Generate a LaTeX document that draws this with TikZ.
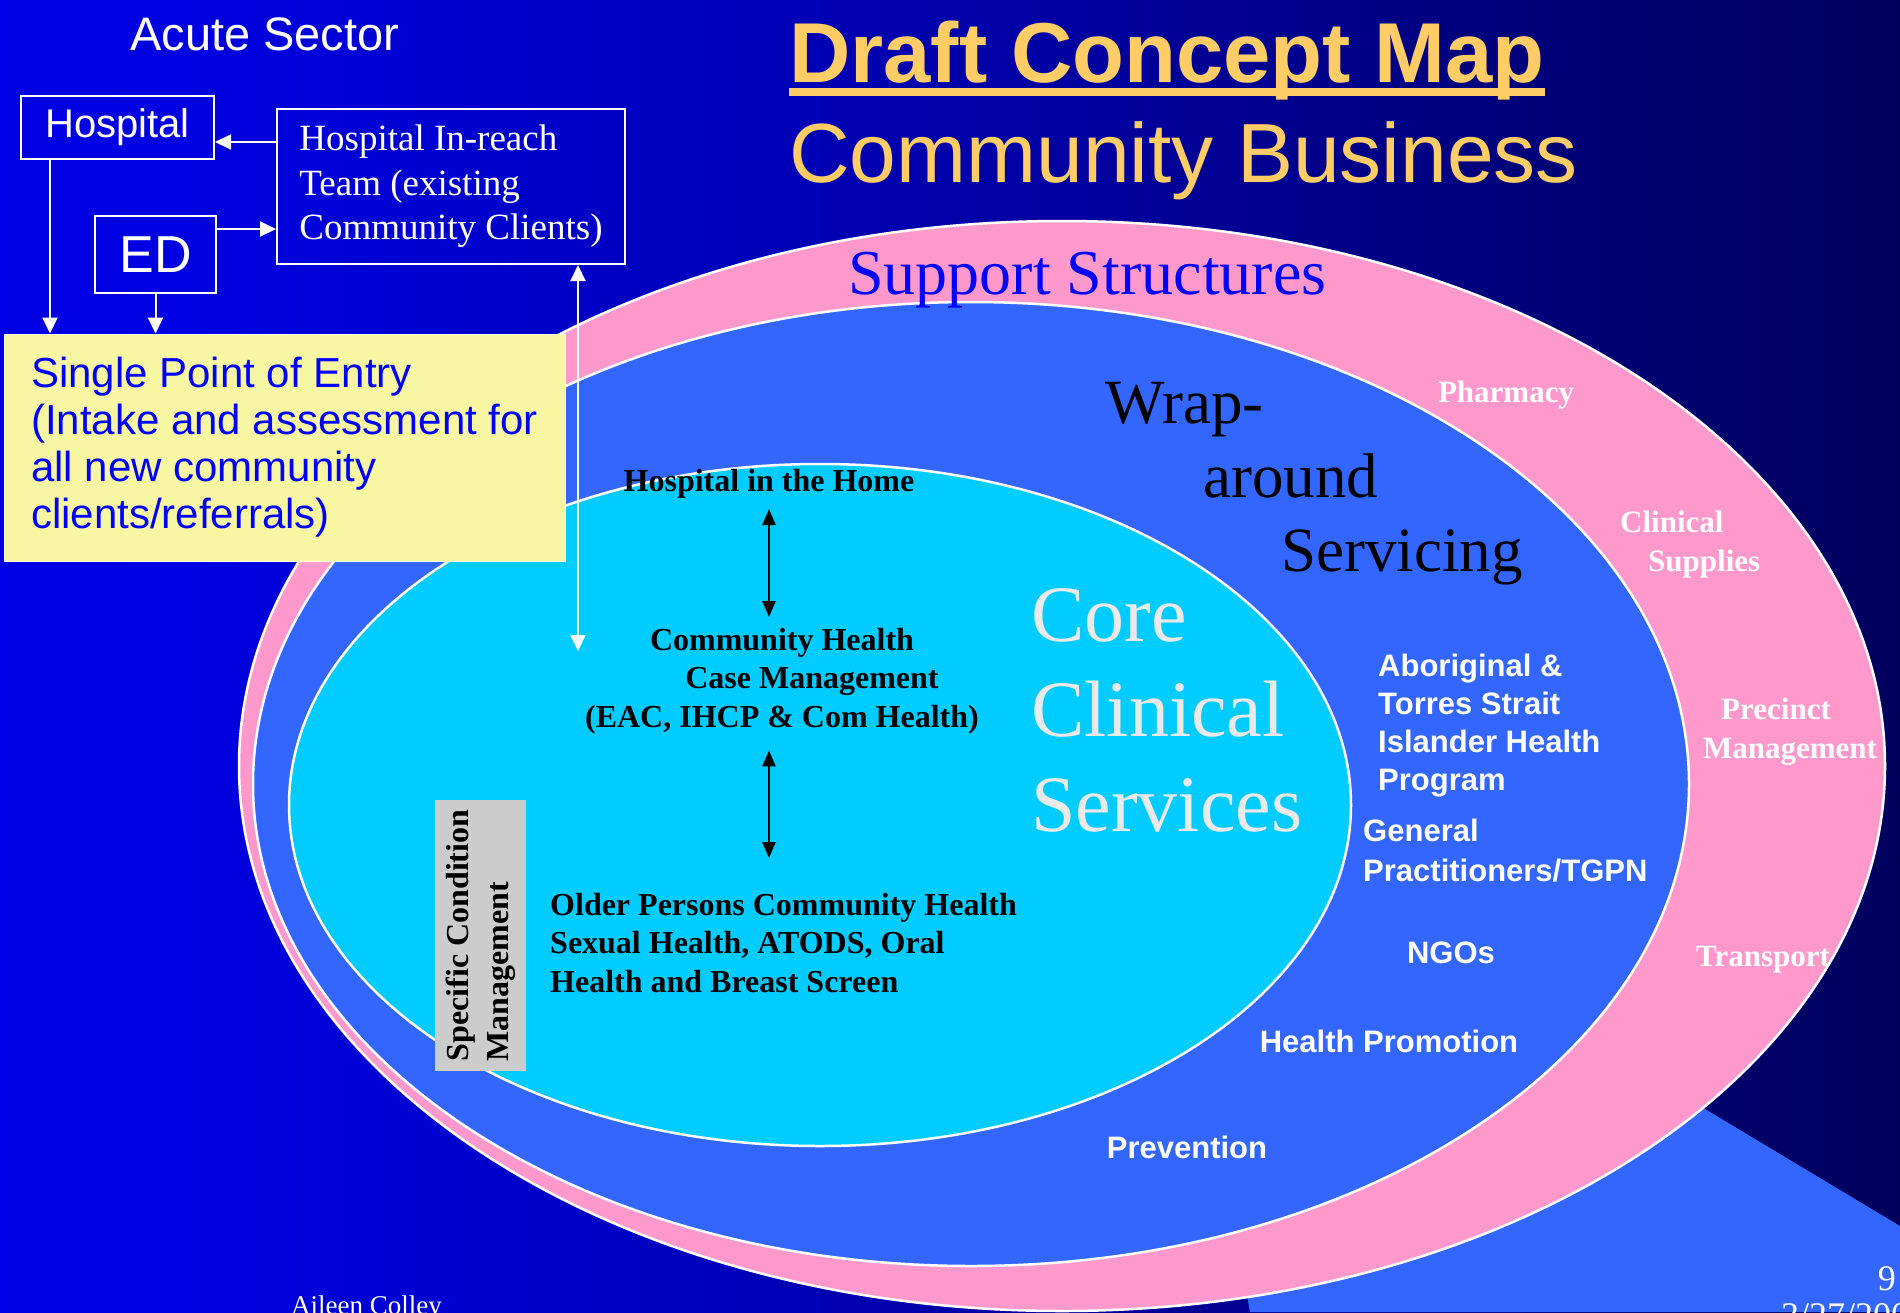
\documentclass[tikz,border=0pt]{standalone}
\usepackage{fontspec}
\setmainfont{Liberation Serif}
\setsansfont{Liberation Sans}
\usetikzlibrary{arrows.meta}

\definecolor{titlegold}{HTML}{FFCC66}
\definecolor{supportpink}{HTML}{FF99CC}
\definecolor{wrapblue}{HTML}{3366FF}
\definecolor{corecyan}{HTML}{00CCFF}
\definecolor{entryyellow}{HTML}{F7F7A3}
\definecolor{condgrey}{HTML}{CCCCCC}
\definecolor{coregrey}{HTML}{EAEAEA}
\definecolor{pureblue}{HTML}{0000FF}

\pgfdeclarehorizontalshading{slidebg}{100bp}{rgb(0bp)=(0,0,0.94); rgb(10bp)=(0,0,0.93); rgb(30bp)=(0,0,0.88); rgb(40bp)=(0,0,0.78); rgb(53bp)=(0,0,0.63); rgb(68bp)=(0,0,0.44); rgb(85bp)=(0,0,0.25); rgb(100bp)=(0,0,0.05)}

\tikzset{
  ring/.style={draw=white, line width=2.5pt},
  acutebox/.style={draw=white, line width=2pt, inner sep=0pt, text=white},
  whitearrow/.style={draw=white, line width=2pt, -{Triangle[length=16pt,width=15pt]}},
  whitedouble/.style={draw=white, line width=2pt, {Triangle[length=16pt,width=15pt]}-{Triangle[length=16pt,width=15pt]}},
  blackarrow/.style={draw=black, line width=2.5pt, {Triangle[length=16pt,width=13pt]}-{Triangle[length=16pt,width=13pt]}},
  boldserif/.style={font=\bfseries\fontsize{32}{38.5}\selectfont, inner sep=0pt},
  ringlabel/.style={font=\bfseries\fontsize{31}{39}\selectfont, text=white, inner sep=0pt},
  wraplabel/.style={font=\sffamily\bfseries\fontsize{31}{38}\selectfont, text=white, inner sep=0pt},
  footer/.style={font=\fontsize{36}{43}\selectfont, text=white, inner sep=0pt}
}

\begin{document}
\begin{tikzpicture}[x=1pt,y=-1pt]
    \clip (0,0) rectangle (1900,1312);
    \shade[shading=slidebg] (0,0) rectangle (1900,1312);
    \fill[wrapblue] (1150,776) -- (1900,1226) -- (1900,1312) -- (1250,1312) -- cycle;

    \draw[ring, fill=supportpink] (1062,766) ellipse [x radius=823, y radius=545];
    \draw[ring, fill=wrapblue] (971,784) ellipse [x radius=718, y radius=482];
    \draw[ring, fill=corecyan] (820,805) ellipse [x radius=531, y radius=341];

    \node[font=\sffamily\fontsize{47}{56}\selectfont, text=white, anchor=base west, inner sep=0pt] (acute) at (130,50) {Acute Sector};
    \node[font=\sffamily\bfseries\fontsize{85}{100}\selectfont, text=titlegold, anchor=base west, inner sep=0pt] (title) at (789,82) {Draft Concept Map};
    \draw[titlegold, line width=8pt] ([yshift=-10pt]title.base west) -- ([yshift=-10pt]title.base east);
    \node[font=\sffamily\fontsize{84}{100}\selectfont, text=titlegold, anchor=base west, inner sep=0pt] (business) at (789,182) {Community Business};

    \node[font=\fontsize{64}{74}\selectfont, text=pureblue, anchor=base west, inner sep=0pt] (support) at (848,294) {Support Structures};
    \node[font=\fontsize{63}{74}\selectfont, anchor=north west, align=left, inner sep=0pt] (wrap) at (1105,382) {Wrap-\\\hspace*{98pt}around\\\hspace*{176pt}Servicing};
    \node[font=\fontsize{80}{95}\selectfont, text=coregrey, anchor=north west, align=left, inner sep=0pt] (core) at (1031,588) {Core\\Clinical\\Services};

    \node[boldserif, anchor=base] (hith) at (769,491) {Hospital in the Home};
    \node[boldserif, anchor=north, align=center] (comhealth) at (782,628) {Community Health\\\hspace*{60pt}Case Management\\(EAC, IHCP \& Com Health)};
    \node[boldserif, anchor=north west, align=left] (older) at (550,893) {Older Persons Community Health\\Sexual Health, ATODS, Oral\\Health and Breast Screen};
    \node[boldserif, font=\bfseries\fontsize{32}{40}\selectfont, fill=condgrey, rotate=90, minimum width=271pt, minimum height=91pt, align=left] (specific) at (480.5,935.5) {Specific Condition\\Management};

    \draw[blackarrow, shorten <=11pt, shorten >=11pt] (hith.south) -- (hith.south |- comhealth.north);
    \draw[blackarrow, shorten <=16pt, shorten >=35pt] (comhealth.south -| hith.south) -- (hith.south |- older.north);

    \node[wraplabel, anchor=north west, align=left] (aboriginal) at (1378,654) {Aboriginal \&\\Torres Strait\\Islander Health\\Program};
    \node[wraplabel, font=\sffamily\bfseries\fontsize{31}{40}\selectfont, anchor=north west, align=left] (gps) at (1363,819) {General\\Practitioners/TGPN};
    \node[wraplabel, anchor=base] (ngos) at (1451,963) {NGOs};
    \node[wraplabel, anchor=base] (promotion) at (1389,1052) {Health Promotion};
    \node[wraplabel, anchor=base] (prevention) at (1187,1158) {Prevention};

    \node[ringlabel, anchor=base] (pharmacy) at (1506,402) {Pharmacy};
    \node[ringlabel, anchor=north west, align=left] (supplies) at (1620,511) {Clinical\\\hspace*{28pt}Supplies};
    \node[ringlabel, anchor=north, align=center] (precinct) at (1790,698) {Precinct\hspace*{28pt}\\Management};
    \node[ringlabel, anchor=base] (transport) at (1763,966) {Transport};

    \node[draw=white!70!entryyellow, line width=1pt, fill=entryyellow, text=pureblue, minimum width=561pt, minimum height=227pt, align=left, inner sep=0pt, font=\sffamily\fontsize{42}{47}\selectfont] (entry) at (284.5,447.5) {Single Point of Entry\\(Intake and assessment for\\all new community\\clients/referrals)};

    \node[acutebox, minimum width=193pt, minimum height=63pt, font=\sffamily\fontsize{40}{48}\selectfont] (hospital) at (117.5,127.5) {Hospital};
    \node[acutebox, minimum width=121pt, minimum height=77pt, font=\sffamily\fontsize{52}{60}\selectfont] (ed) at (155.5,254.5) {ED};
    \node[acutebox, minimum width=348pt, minimum height=155pt, align=left, font=\fontsize{37}{44.5}\selectfont] (inreach) at (451,186.5) {Hospital In-reach\\Team (existing\\Community Clients)};

    \draw[whitearrow] (inreach.west |- 0,142) -- (hospital.east |- 0,142);
    \draw[whitearrow] (ed.east |- 0,229) -- (inreach.west |- 0,229);
    \draw[whitearrow] ([xshift=-67.5pt]hospital.south) -- ([xshift=-67.5pt]hospital.south |- entry.north);
    \draw[whitearrow] (ed.south) -- (ed.south |- entry.north);
    \coordinate (reachend) at (578,651);
    \draw[whitedouble] (reachend |- inreach.south) -- (reachend);

    \node[footer, font=\fontsize{27}{32}\selectfont, anchor=base west] (author) at (291,1314) {Aileen Colley};
    \node[footer, anchor=base east] (pagenum) at (1896,1290) {9};
    \node[footer, anchor=base west] (date) at (1781,1327) {3/27/2003};
\end{tikzpicture}
\end{document}
